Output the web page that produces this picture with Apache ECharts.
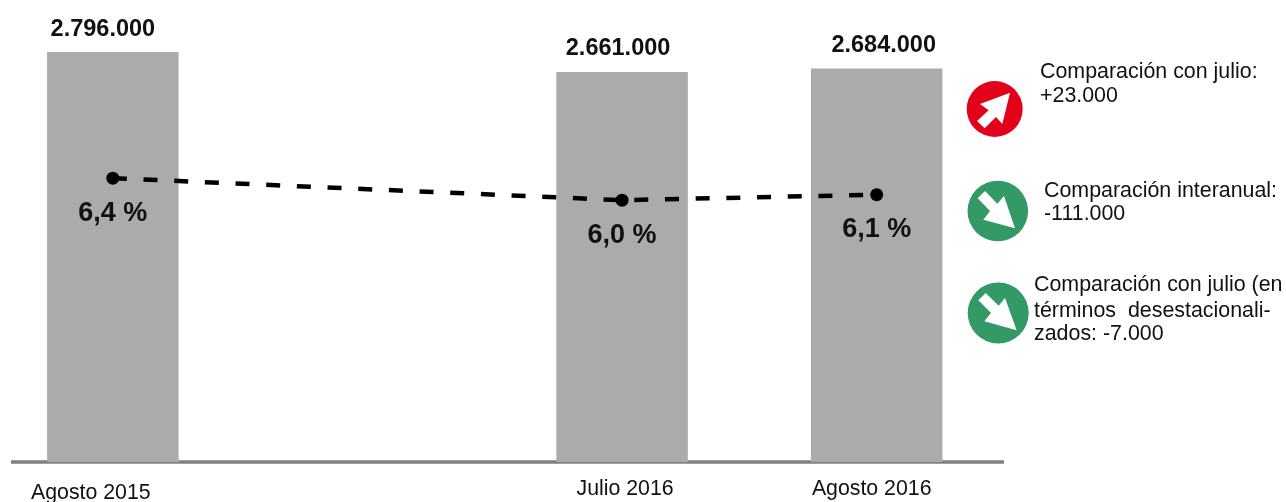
<!DOCTYPE html>
<html><head><meta charset="utf-8">
<style>html,body{margin:0;padding:0;background:#fff}#c{width:1286px;height:502px}</style>
<script src="https://cdn.jsdelivr.net/npm/echarts@6/dist/echarts.min.js"></script>
</head><body><div id="c"></div>
<script>
const categories = ['Agosto 2015', 'Julio 2016', 'Agosto 2016'];
const positions = [0, 2, 3];
const occupied = [2796000, 2661000, 2684000];
const rate = [6.4, 6.0, 6.1];
const barLabelShift = [-10, -4, 7];
const notes = [
  {x: 1040, lines: [['Comparación con julio:', 72], ['+23.000', 96]]},
  {x: 1044, lines: [['Comparación interanual:', 191], ['-111.000', 214]]},
  {x: 1034, lines: [['Comparación con julio (en', 285], ['términos  desestacionali-', 311], ['zados: -7.000', 334]]}
];
const font = '"Liberation Sans", Arial, sans-serif';
const RED = '#e2001a', GREEN = '#339966';
const fmt = v => String(v).replace(/\B(?=(\d{3})+$)/g, '.');
const z = (pts, oy) => pts.map(p => [960 + p[0] / 3, oy + p[1] / 3]);
const graphics = [
  {type:'circle', shape:{cx:994.7, cy:109, r:28}, style:{fill:RED}},
  {type:'polygon', shape:{points:z([[150,53],[127,147],[108,126],[74,160],[51,138],[86,106],[60,87]],75)}, style:{fill:'#fff'}},
  {type:'circle', shape:{cx:997.8, cy:211, r:30.3}, style:{fill:GREEN}},
  {type:'polygon', shape:{points:z([[165,160],[132,63],[112,86],[75,48],[53,70],[90,108],[70,134]],175)}, style:{fill:'#fff'}},
  {type:'circle', shape:{cx:998.2, cy:313, r:30.5}, style:{fill:GREEN}},
  {type:'polygon', shape:{points:z([[170,157],[135,60],[116,83],[77,45],[55,67],[93,105],[73,130]],278)}, style:{fill:'#fff'}}
];
notes.forEach(n => n.lines.forEach(l => graphics.push({
  type:'text', x:n.x, y:l[1],
  style:{text:l[0], fill:'#111', font:'21.4px ' + font, textAlign:'left', textVerticalAlign:'middle'}
})));
const chart = echarts.init(document.getElementById('c'), null, {renderer:'canvas'});
chart.setOption({
  animation:false,
  backgroundColor:'#fff',
  grid:{left:11, width:993, top:22.2, height:439.8, outerBoundsMode:'none'},
  xAxis:{
    type:'value', min:-0.4, max:3.5, splitLine:{show:false},
    axisLine:{show:true, onZero:false, lineStyle:{color:'#808080', width:3.5, cap:'butt'}},
    axisTick:{show:false},
    axisLabel:{
      customValues:positions, showMinLabel:true, showMaxLabel:true,
      formatter:v => { const i = positions.indexOf(v); return '{' + ['low','std','end'][i] + '|' + categories[i] + '}'; },
      rich:{
        low:{fontFamily:font, fontSize:21.3, color:'#111', padding:[13,44,0,0], align:'center'},
        std:{fontFamily:font, fontSize:21.3, color:'#111', padding:[9,0,0,6], align:'center'},
        end:{fontFamily:font, fontSize:21.3, color:'#111', padding:[9,10,0,0], align:'center'}
      }
    }
  },
  yAxis:[
    {type:'value', min:0, max:3000000, show:false},
    {type:'value', min:1.24, max:9.236, show:false}
  ],
  series:[
    {type:'bar', yAxisIndex:0, barWidth:131.5, itemStyle:{color:'#ababab'},
     data:positions.map((p,i) => ({value:[p, occupied[i]],
       label:{offset:[barLabelShift[i], 0]}})),
     label:{show:true, position:'top', distance:11, fontFamily:font, fontWeight:'bold', fontSize:23.5, color:'#111',
            formatter:p => fmt(p.value[1])}},
    {type:'line', yAxisIndex:1, symbol:'circle', symbolSize:13,
     lineStyle:{color:'#000', width:4.5, type:[14,16.7]},
     itemStyle:{color:'#000'},
     data:positions.map((p,i) => [p, rate[i]]),
     label:{show:true, position:'bottom', distance:15, fontFamily:font, fontWeight:'bold', fontSize:27, color:'#111',
            formatter:p => p.value[1].toFixed(1).replace('.', ',') + ' %'}}
  ],
  graphic:graphics
});
</script></body></html>
